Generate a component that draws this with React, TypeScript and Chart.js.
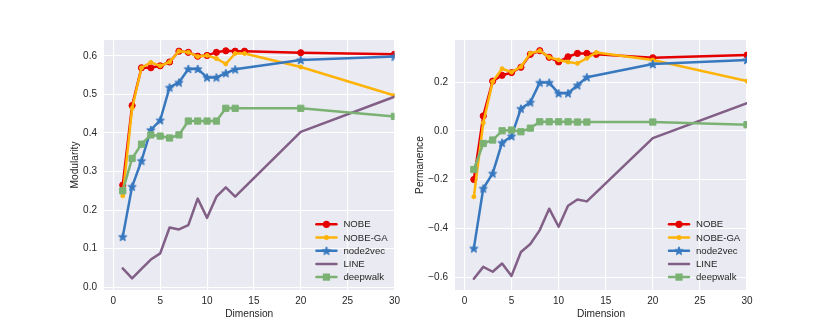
import React, { useEffect, useRef } from 'react';
import { Chart, registerables } from 'chart.js';

Chart.register(...registerables);

const FONT = '"Liberation Sans", Arial, Helvetica, sans-serif';
const TEXT = '#262626';
const BG = '#EAEAF2';

// ---- data ----
const dimsLong = [1, 2, 3, 4, 5, 6, 7, 8, 9, 10, 11, 12, 13, 14, 20, 30];
const dimsShort = [1, 2, 3, 4, 5, 6, 7, 8, 9, 10, 11, 12, 13, 20, 30];
const xTickValues = [0, 5, 10, 15, 20, 25, 30];

const seriesNames = ['NOBE', 'NOBE-GA', 'node2vec', 'LINE', 'deepwalk'];

// Modularity (left panel)
const modNOBE = [0.265, 0.471, 0.569, 0.569, 0.574, 0.584, 0.612, 0.609, 0.599, 0.601, 0.609, 0.613, 0.612, 0.612, 0.608, 0.604];
const modNOBEGA = [0.237, 0.464, 0.569, 0.583, 0.574, 0.584, 0.612, 0.609, 0.598, 0.601, 0.593, 0.579, 0.606, 0.606, 0.571, 0.497];
const modNode2vec = [0.131, 0.261, 0.328, 0.408, 0.433, 0.518, 0.531, 0.566, 0.566, 0.544, 0.544, 0.555, 0.565, 0.589, 0.598];
const modLINE = [0.049, 0.023, 0.048, 0.072, 0.088, 0.155, 0.150, 0.161, 0.230, 0.180, 0.235, 0.259, 0.235, 0.403, 0.494];
const modDeepwalk = [0.250, 0.334, 0.371, 0.395, 0.392, 0.387, 0.395, 0.431, 0.431, 0.431, 0.431, 0.464, 0.464, 0.464, 0.443];
const modTicks = [0, 0.1, 0.2, 0.3, 0.4, 0.5, 0.6];

// Permanence (right panel)
const permNOBE = [-0.199, 0.062, 0.205, 0.229, 0.240, 0.262, 0.315, 0.330, 0.303, 0.284, 0.305, 0.319, 0.319, 0.315, 0.301, 0.312];
const permNOBEGA = [-0.270, 0.034, 0.203, 0.256, 0.242, 0.264, 0.319, 0.330, 0.303, 0.292, 0.284, 0.278, 0.299, 0.323, 0.292, 0.205];
const permNode2vec = [-0.482, -0.236, -0.174, -0.048, -0.021, 0.092, 0.118, 0.199, 0.199, 0.155, 0.155, 0.188, 0.221, 0.275, 0.292];
const permLINE = [-0.607, -0.558, -0.578, -0.544, -0.595, -0.497, -0.464, -0.407, -0.319, -0.393, -0.307, -0.281, -0.289, -0.029, 0.114];
const permDeepwalk = [-0.158, -0.051, -0.037, 0.001, 0.004, -0.003, 0.012, 0.038, 0.038, 0.038, 0.038, 0.037, 0.037, 0.037, 0.026];
const permTicks = [-0.6, -0.4, -0.2, 0, 0.2];

// ---- styles ----
const COLORS = ['#e50000', '#feb308', '#3778bf', '#825f87', '#7bb274'];

function makeStar(color: string): HTMLCanvasElement {
  const c = document.createElement('canvas');
  c.width = 12;
  c.height = 12;
  const ctx = c.getContext('2d')!;
  ctx.beginPath();
  for (let i = 0; i < 10; i++) {
    const r = i % 2 === 0 ? 4.4 : 4.4 * 0.42;
    const a = -Math.PI / 2 + (i * Math.PI) / 5;
    ctx.lineTo(6 + r * Math.cos(a), 6.4 + r * Math.sin(a));
  }
  ctx.closePath();
  ctx.fillStyle = color;
  ctx.fill();
  ctx.lineWidth = 1;
  ctx.lineJoin = 'round';
  ctx.strokeStyle = color;
  ctx.stroke();
  return c;
}

type Marker = { style: any; radius: number };

function buildDatasets(values: number[][], star: HTMLCanvasElement) {
  const markers: Marker[] = [
    { style: 'circle', radius: 3.1 },
    { style: 'circle', radius: 2 },
    { style: star, radius: 5 },
    { style: 'circle', radius: 0 },
    { style: 'rect', radius: 4.4 },
  ];
  const dims = [dimsLong, dimsLong, dimsShort, dimsShort, dimsShort];
  return values.map((vals, i) => ({
    label: seriesNames[i],
    data: dims[i].map((x, j) => ({ x, y: vals[j] })),
    borderColor: COLORS[i],
    backgroundColor: COLORS[i],
    borderWidth: 2.5,
    borderCapStyle: 'round',
    borderJoinStyle: 'round',
    pointStyle: markers[i].style,
    pointRadius: markers[i].radius,
    pointBorderWidth: 1,
    pointBackgroundColor: COLORS[i],
    pointBorderColor: COLORS[i],
    tension: 0,
    order: 5 - i,
    _marker: markers[i],
  }));
}

const bgPlugin = {
  id: 'bgArea',
  beforeDraw(chart: any) {
    const { ctx, chartArea } = chart;
    ctx.save();
    ctx.fillStyle = BG;
    ctx.fillRect(chartArea.left, chartArea.top, chartArea.right - chartArea.left, chartArea.bottom - chartArea.top);
    ctx.restore();
  },
};

const legendPlugin = {
  id: 'innerLegend',
  afterDraw(chart: any) {
    const { ctx, chartArea } = chart;
    const ds = chart.data.datasets;
    ctx.save();
    for (let i = 0; i < ds.length; i++) {
      const d = ds[i];
      const y = chartArea.bottom - 65.7 + i * 13.2;
      const x0 = chartArea.right - 78;
      const x1 = chartArea.right - 58;
      ctx.strokeStyle = d.borderColor;
      ctx.lineWidth = d.borderWidth;
      ctx.lineCap = 'round';
      ctx.beginPath();
      ctx.moveTo(x0, y);
      ctx.lineTo(x1, y);
      ctx.stroke();
      const m: Marker = d._marker;
      const cx = (x0 + x1) / 2;
      ctx.fillStyle = d.borderColor;
      if (m.style === 'circle' && m.radius > 0) {
        ctx.beginPath();
        ctx.arc(cx, y, m.radius + 0.5, 0, Math.PI * 2);
        ctx.fill();
      } else if (m.style === 'rect') {
        const h = m.radius * Math.SQRT1_2 + 0.5;
        ctx.fillRect(cx - h, y - h, 2 * h, 2 * h);
      } else if (typeof m.style === 'object') {
        ctx.drawImage(m.style, cx - m.style.width / 2, y - m.style.height / 2);
      }
      ctx.fillStyle = TEXT;
      ctx.font = `9.6px ${FONT}`;
      ctx.textBaseline = 'middle';
      ctx.textAlign = 'left';
      ctx.fillText(d.label, chartArea.right - 51, y + 0.5);
    }
    ctx.restore();
  },
};

type PanelProps = {
  left: number;
  width: number;
  padLeft: number;
  padRight: number;
  yAxisWidth: number;
  yMin: number;
  yMax: number;
  yTicks: number[];
  yTitle: string;
  values: number[][];
  minusSign: boolean;
};

function Panel(p: PanelProps) {
  const ref = useRef<HTMLCanvasElement>(null);
  useEffect(() => {
    if (!ref.current) return;
    const star = makeStar(COLORS[2]);
    const chart = new Chart(ref.current, {
      type: 'line',
      data: { datasets: buildDatasets(p.values, star) as any },
      options: {
        animation: false,
        responsive: false,
        maintainAspectRatio: false,
        layout: { padding: { left: p.padLeft, right: p.padRight, top: 40, bottom: 8 } },
        plugins: { legend: { display: false }, tooltip: { enabled: false } },
        scales: {
          x: {
            type: 'linear',
            min: -1,
            max: 30,
            afterBuildTicks: (s: any) => {
              s.ticks = xTickValues.map((v) => ({ value: v }));
            },
            afterFit: (s: any) => {
              s.height = 34;
            },
            grid: { color: '#ffffff', lineWidth: 1.1, drawTicks: false },
            border: { display: false },
            ticks: {
              padding: 5,
              color: TEXT,
              font: { family: FONT, size: 10 },
              maxRotation: 0,
              autoSkip: false,
              callback: (v: any) => String(v),
            },
            title: {
              display: true,
              text: 'Dimension',
              color: TEXT,
              font: { family: FONT, size: 10.2 },
              padding: { top: 4, bottom: 4 },
            },
          },
          y: {
            type: 'linear',
            min: p.yMin,
            max: p.yMax,
            afterBuildTicks: (s: any) => {
              s.ticks = p.yTicks.map((v) => ({ value: v }));
            },
            afterFit: (s: any) => {
              s.width = p.yAxisWidth;
            },
            grid: { color: '#ffffff', lineWidth: 1.1, drawTicks: false },
            border: { display: false },
            ticks: {
              padding: 7,
              color: TEXT,
              font: { family: FONT, size: 10 },
              autoSkip: false,
              callback: (v: any) => {
                const s = Number(v).toFixed(1);
                return p.minusSign ? s.replace('-', '\u2212') : s;
              },
            },
            title: {
              display: true,
              text: p.yTitle,
              color: TEXT,
              font: { family: FONT, size: 10.2 },
              padding: { top: 4, bottom: 4 },
            },
          },
        },
      } as any,
      plugins: [bgPlugin, legendPlugin],
    });
    return () => chart.destroy();
  }, []);
  return (
    <div style={{ position: 'absolute', left: p.left, top: 0, width: p.width, height: 332 }}>
      <canvas ref={ref} width={p.width} height={332} style={{ display: 'block' }} />
    </div>
  );
}

export default function App() {
  return (
    <div style={{ position: 'fixed', left: 0, top: 0, width: 830, height: 332, background: '#ffffff', overflow: 'hidden' }}>
      <Panel
        left={0}
        width={405}
        padLeft={65}
        padRight={9}
        yAxisWidth={39}
        yMin={-0.007}
        yMax={0.641}
        yTicks={modTicks}
        yTitle="Modularity"
        values={[modNOBE, modNOBEGA, modNode2vec, modLINE, modDeepwalk]}
        minusSign={false}
      />
      <Panel
        left={405}
        width={425}
        padLeft={5}
        padRight={83}
        yAxisWidth={45}
        yMin={-0.653}
        yMax={0.374}
        yTicks={permTicks}
        yTitle="Permanence"
        values={[permNOBE, permNOBEGA, permNode2vec, permLINE, permDeepwalk]}
        minusSign={true}
      />
    </div>
  );
}
